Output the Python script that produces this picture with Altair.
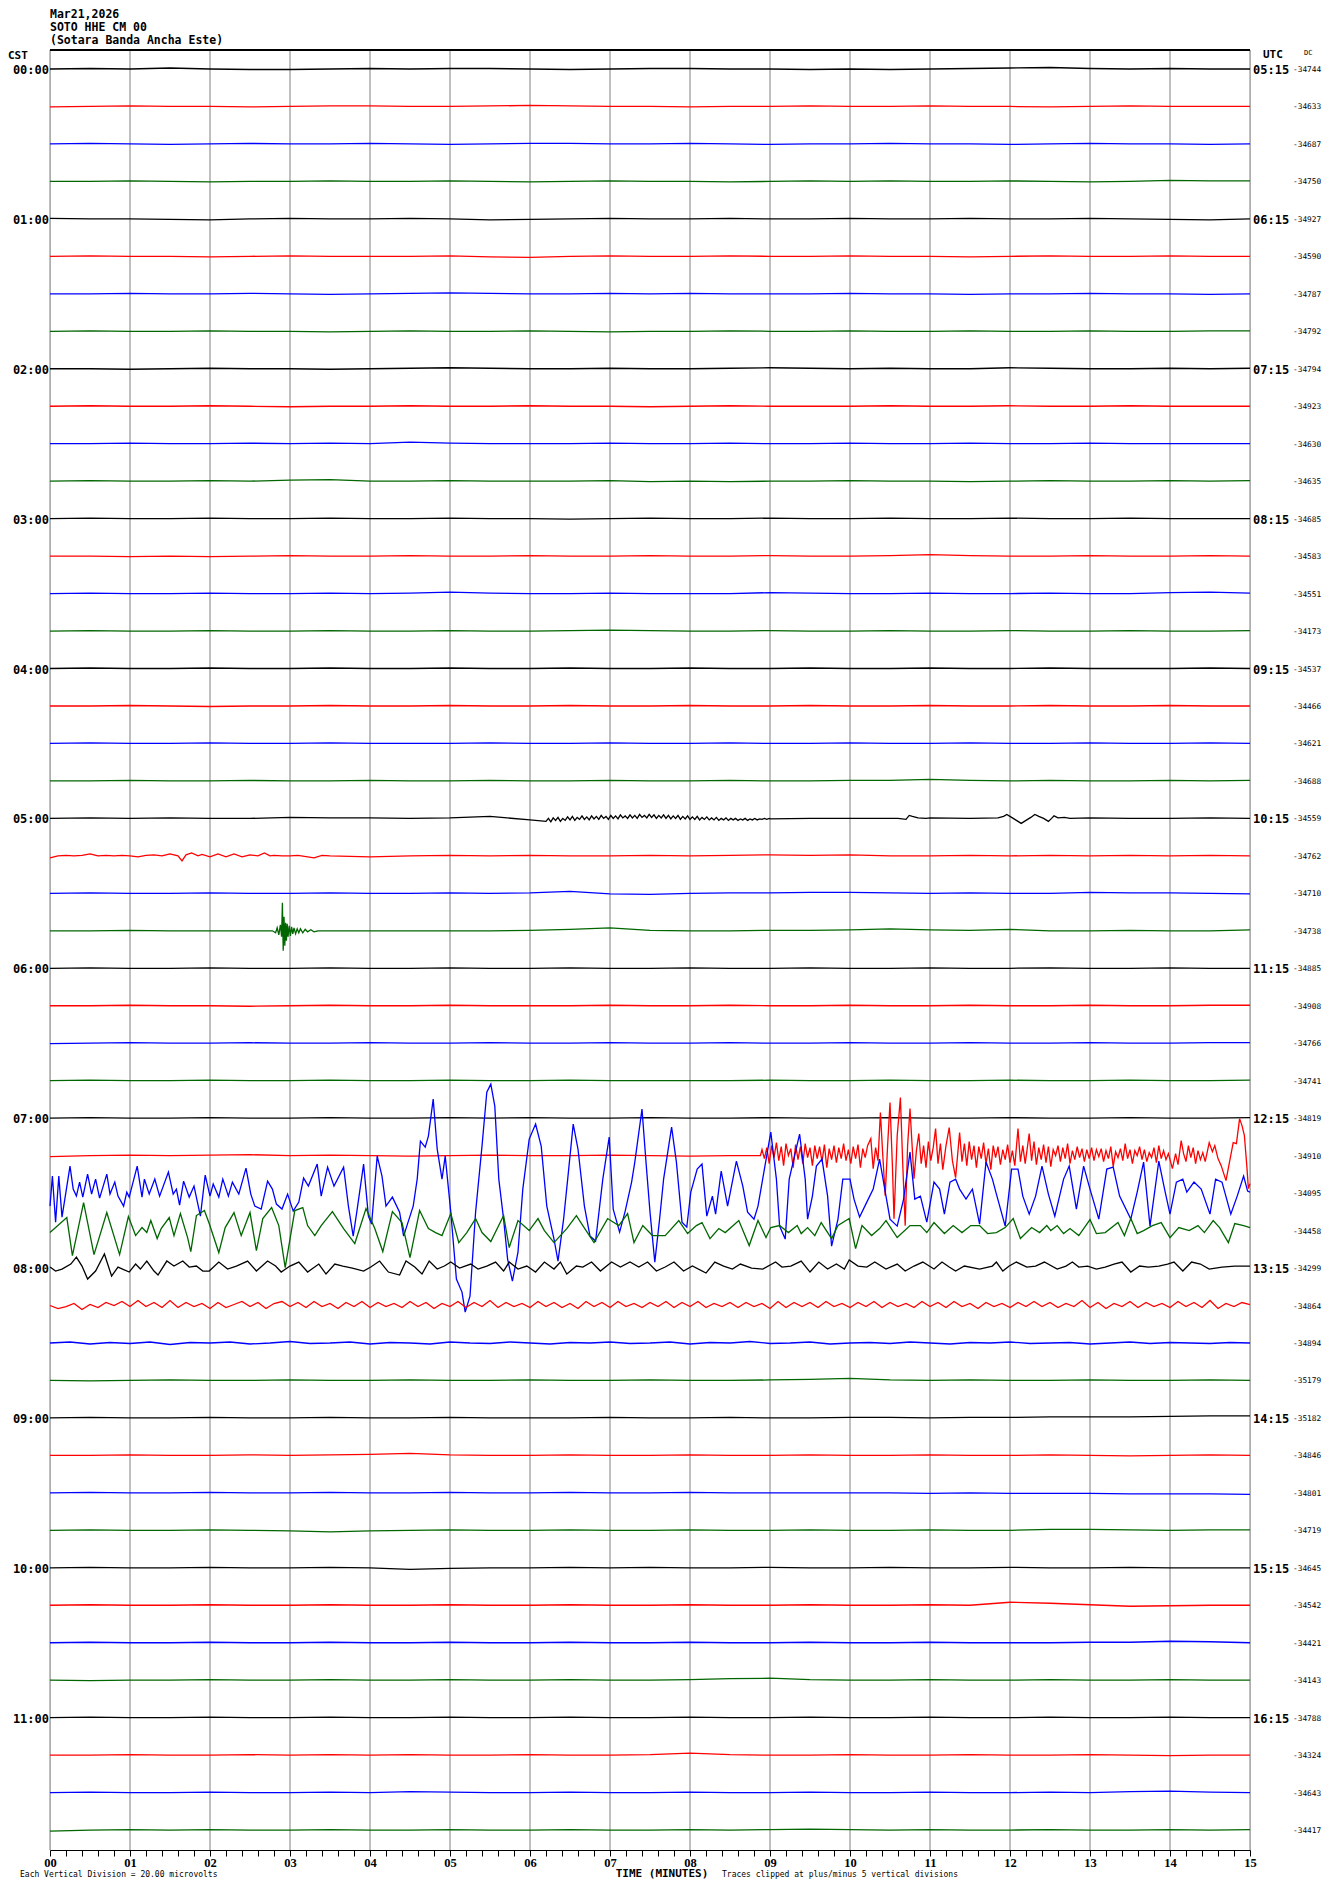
import altair as alt
import numpy as np
import pandas as pd

# ---------------- data ----------------
SPACING = 37.47          # amplitude units between two trace baselines
TRACE_COLORS = ["#000000", "#ff0000", "#0000ff", "#006600"]

TITLE_LINES = ["Mar21,2026", "SOTO HHE CM 00", "(Sotara Banda Ancha Este)"]
CST_LABELS = ["00:00", "01:00", "02:00", "03:00", "04:00", "05:00",
              "06:00", "07:00", "08:00", "09:00", "10:00", "11:00"]
UTC_LABELS = ["05:15", "06:15", "07:15", "08:15", "09:15", "10:15",
              "11:15", "12:15", "13:15", "14:15", "15:15", "16:15"]
DC_VALUES = [-34744, -34633, -34687, -34750, -34927, -34590, -34787, -34792,
             -34794, -34923, -34630, -34635, -34685, -34583, -34551, -34173,
             -34537, -34466, -34621, -34688, -34559, -34762, -34710, -34738,
             -34885, -34908, -34766, -34741, -34819, -34910, -34095, -34458,
             -34299, -34864, -34894, -35179, -35182, -34846, -34801, -34719,
             -34645, -34542, -34421, -34143, -34788, -34324, -34643, -34417]

QUIET_T = [i * 0.5 for i in range(31)]
QUIET = {
    0: [0, 0.5, 0, 1, 0, -0.5, -0.5, 0, 0.5, 0, 0.5, 0.5, 0, -0.5, 0, 0.5, 0.5, 0, 0, -0.5, 0, -0.5, 0, 0.5, 1, 1.5, 0.5, 0, 0.5, 0, 0],
    1: [-0.5, 0, 0.5, 0, 0, -0.5, 0, 0.5, 0.5, 0, 0, 0.5, 1, 0.5, 0, 0, -0.5, 0, 0, 0.5, 0, 0, 0.5, 0, 0, -0.5, 0, 0.5, 0, 0, 0],
    2: [0, 0.5, 0, -0.5, 0, 0.5, 0, 0, 0.5, 0, -0.5, 0, 0.5, 0.5, 0, 0, 0.5, 0, -0.5, 0, 0, 0.5, 0, 0, -0.5, 0, 0.5, 0, 0, -0.5, 0],
    3: [0, 0, 0.5, 0, -0.5, 0, 0, 0.5, 0, 0, 0.5, 0, -0.5, 0, 0.5, 0, 0, -0.5, 0, 0.5, 0, 0.5, 0, 0, 0.5, 0, -0.5, 0, 1, 0.5, 0.5],
    4: [0.5, 0, 0, -0.5, -1, 0, 0.5, 0, 0, 0.5, 0, -1, -0.5, 0, 0.5, 0, 0, 0.5, 0, 0, 0.5, 0, 0, 0.5, 0, 0, 0.5, 0, -0.5, -1, 0],
    5: [0, 0.5, 0, 0, -0.5, 0, 0.5, 0, 0, 0, 0.5, -0.5, -1, 0, 0.5, 0, 0, 0.5, 0, 0, 0.5, 0, 0, -0.5, 0, 0.5, 0, 0, 0.5, 0, 0],
    6: [0, 0, 0.5, 0, 0, 0.5, 0, -0.5, 0, 0.5, 1, 0.5, 0, 0, 0.5, 0, 0.5, 0, 0, 0, 0.5, 0, 0, -0.5, 0, 0, 0.5, 0, 0, -0.5, 0],
    7: [0, 0.5, 0, 0, 0.5, 0, 0, -0.5, 0, 0.5, 0, 0, 0.5, 0, -0.5, 0, 0, 0.5, 0, 0, 0.5, 0, 0, 0.5, 0, 0, 0.5, 0, 0, 0.5, 0.5],
    8: [0, 0, -0.5, 0, 0.5, 0, 0, -0.5, 0, 0.5, 1, 0.5, 0, 0, 0.5, 0, 0, 0.5, 1, 0.5, 0, 0.5, 0, 0, 1, 0.5, 0, 0, 0.5, 0, 0.5],
    9: [0, 0.5, 0, 0, 0.5, 0, -0.5, 0, 0, 0.5, 0, 0, 0.5, 0, 0, -0.5, 0, 0.5, 0, 0, 0, 0.5, 0, 0, 0.5, 0, 0, 0.5, 0, 0, 0],
    10: [0, 0, 0.5, 0, 0, 0.5, 0, 0.5, 0, 1.5, 0.5, 0, 0, 0, 0.5, 0, 0, 0.5, 0, 0, 0.5, 0, 0, 0.5, 0, 0, 0.5, 0, 0, 0, 0],
    11: [0, 0.5, 0, 0, 0.5, 0, 1, 1.5, 0, 0, 0.5, 0, 0, 0, 0.5, -0.5, 0, -0.5, 0, 0, 0.5, 0, 0, -0.5, 0, 0.5, 0, 0, 0.5, 0, 0.5],
    12: [0, 0.5, 0, 0, 0.5, 0, 0, 0.5, 0, 0, 0.5, 0, 0, -0.5, 0, 0.5, 0, 0, 0.5, 0, 0, 0.5, 0, 0, 0.5, 0, 0, 0.5, 0, 0, 0],
    13: [0, 0, -0.5, 0, -0.5, 0, 0.5, 0, 0, 0.5, 0, 0, 0.5, 0, 0, 0.5, 0, 0, 0.5, 0, 0, 0.5, 1.5, 0.5, 0, 0, 0.5, 0, 0, 0.5, 0],
    14: [0, 0.5, 0, 0, 0.5, 0, 0, 0.5, 0, 0.5, 1.5, 0.5, 0, 0, 0.5, 0, 0, 0, 1, 0.5, 0, 0, 0.5, 0, 0, 0.5, 0, 0, 1, 1.5, 0.5],
    15: [0, 0.5, 0, 0, 0.5, 0, 0, 0.5, 0, 0, 0.5, 0, 0, 0.5, 1, 0.5, 0, 0, 0.5, 0, 0, 0.5, 0, 0, 0.5, 0, 0, 0.5, 0, 0, 0.5],
    16: [0, 0.5, 0, 0, 0.5, 0, 0, 0.5, 0, 0, 0.5, 0, 0, 0.5, 0, 0, 0.5, 0, 0, 0.5, 0, 0, 0.5, 0, 0, 0.5, 0, 0, 0, 0.5, 0],
    17: [0, 0, 0.5, 0, -0.5, 0, 0, 0.5, 0, 0, 0.5, 0, 0, 0.5, 0, 0, 0.5, 0, 0, 0.5, 0, 0, 0.5, 0, 0, 0.5, 0, 0, 0.5, 0, 0],
    18: [0, 0.5, 0, 0, 0.5, 0, 0, 0.5, 0, 0, 0, 0.5, 0, 0, 0.5, 0, 0, 0.5, 0, 0, 0.5, 0, 0, 0.5, 0, 0, 0.5, 0, 0, 0.5, 0],
    19: [0, 0, 0.5, 0, 0, 0.5, 0, 0, 0.5, 0, 0, 0.5, 0, 0, 0.5, 0, 0, 0.5, 0, 0, 0.5, 0.5, 1.5, 0.5, 0, 0.5, 0, 0, 0.5, 0, 0.5],
    20: [0, 0.5, 0, 0.5, 0, 0, 1, 0.5, 0.5, 0, 0.5, 2, -1.5, 0, 0, 0, 0, 0, -0.5, 0, 0, 0, 0.5, 0, 0, 0, 0.5, 0, 0, 0.5, 0],
    21: [0, 0, 0, 0, 0, 0, 0, 0, -1, 0, 0.5, 0, 0.5, 0, 0, 0.5, 0, 0.5, 1, 0.5, 1, 0, 0, 0.5, 0, 0.5, 0, 0.5, 0, 0.5, 0],
    22: [0, 0.5, 0, 0, 0.5, 0, 0, 0.5, 0, 0, 0.5, 0, 0.5, 2, -0.5, -1, 0, 0.5, 0.5, 1, 1, 0.5, 0, 0.5, 0, 0, 1, 0.5, 0.5, 0, -0.5],
    23: [0, 0, 0.5, 0, 0, 0, 0, 0, 0, 0, 0, 0, 0.5, 1.5, 3, 0.5, 0, 0, 0.5, 0.5, 1, 2, 1, 0.5, 1.5, 0, 0, 0.5, 0, 0, 1],
    24: [0, 0.5, 0, 0, 0.5, 0, 0, 0.5, 0, 0, 0.5, 0, 0, 0.5, 0, 0, 0.5, 0, 0, 0.5, 0, 0, 0.5, 0, 0, 0.5, 0, 0, 0.5, 0, 0],
    25: [0, 0, 0.5, 0, 0, -0.5, 0, 0.5, 0, 0, 0.5, 0, 0, 0, 0.5, 0, 0, 0.5, 0, 0, 0.5, 0, 0, 0.5, 0, 0, 0.5, 0, 0, 0.5, 0.5],
    26: [-0.5, 0, 0.5, 0, 0, 0.5, 0, 0, 0.5, 0, 0, 0.5, 0, 0, 0.5, 0, 0, 0.5, 0, 0, 0.5, 0, 0, 0.5, 0, 0, 0.5, 0, 0, 0.5, 0.5],
    27: [0, 0.5, 0, 0, 0.5, 0, 0, 0.5, 0, 0, 0.5, 0, 0, 0.5, 0, 0, 0, 0, 0.5, 0, 0, 0.5, 0, 0, 0.5, 0, 0, 0.5, 0, 0, 0.5],
    28: [0, 0.5, 0, 0, 0.5, 0, 0, 0.5, 0, 0, 0.5, 0, 0.5, 0, 0, 0.5, 0, 0, 0.5, 0, 0, 0.5, 0, 0, 0.5, 0, 0, 0.5, 0, 0, 0.5],
    29: [-1, 0, 0.5, 0, 0.5, 1, 0, 0.5, 0, -0.5, 0, 0.5, 0, 0, 0.5, 0, -0.5, 0, 0, 0, 0, 0, 0, 0, 0, 0, 0, 0, 0, 0, 0],
    35: [0, -0.5, 0, 0.5, 0, 0, 0.5, 0, 0, 0.5, 0, 0, 0.5, 0, 0, 0.5, 0, 0, 0.5, 1, 2, 0.5, 0, 0.5, 0, 0, 0.5, 0, 0, 0.5, 0],
    36: [0, 0.5, 0, 0, 0.5, 0, 0, 0.5, 0, 0, 0.5, 0, 0, 0, 0.5, 0, 0, 0.5, 0, 0, 0.5, 0.5, 0, 0.5, 0.5, 1, 1, 1, 1.5, 2, 2],
    37: [0, 0, 0.5, 0, 0, 0.5, 0, 0.5, 1, 2, 0.5, 0, 0, 0.5, 0, 0, 0.5, 0, 0, 0.5, 0, 0, 0.5, 0, 0, 0.5, 0, -0.5, 0, 0.5, 0],
    38: [0, 0.5, 0, 0, 0.5, 0, 0, 0.5, 0, 0, 0.5, 0, 0, 0.5, 0, 0, 0.5, 0, 0, 0, 0, 0, -0.5, 0, -0.5, -0.5, -0.5, -1, -1, -1, -1.5],
    39: [0, 0.5, 0, 0, 0.5, 0, -0.5, -1.5, -0.5, 0, 0.5, 0, 0, 0.5, 0, 0, 0.5, 0, 0, 0.5, 0, 0, 0.5, 0, 0, 1, 1, 0.5, 0, 0.5, 0.5],
    40: [0, 0.5, 0, 0, 0.5, 0, 0, 0.5, 0, -1.5, -0.5, 0, 0, 0.5, 0, 0.5, 0, 0, 0.5, 0, 0, 0.5, 0, 0, 0.5, 0, 0, 0.5, 0, 0, 0],
    41: [0, 0.5, 0, 0, 0.5, 0, 0, 0.5, 0, 0, 0.5, 0, 0, 0.5, 0, 0, 0.5, 0, 0, 0.5, 0, 0, 0.5, 0, 3, 2, 0.5, -1, -0.5, 0, 0],
    42: [0, 0.5, 0, 0, 0.5, 0, 0, 0.5, 0, 0, 0.5, 0, 0, 0.5, 0, 0, 0.5, 0, 0, 0.5, 0, 0, 0.5, 0, 0, 0, 0.5, 0.5, 1.5, 1, 0],
    43: [0, -0.5, 0, 0, 0.5, 0, 0, 0.5, 0, 0, 0.5, 0, 0, 0.5, 0, 0, 0.5, 1.5, 2, 0.5, 0, 0, 0.5, 0, 0, 0.5, 0, 0, 0.5, 0, 0],
    44: [0, 0.5, 0, 0, 0.5, 0, 0, 0.5, 0, 0, 0.5, 0, 0, 0.5, 0, 0, 0.5, 0, 0, 0.5, 0, 0, 0.5, 0, 0, 0.5, 0, 0, 0.5, 0, 0],
    45: [0, 0, 0.5, 0, 0, 0.5, 0, 0.5, 0, 0.5, 0, 0, 0.5, 0, 0, 0.5, 2, 0.5, 0, 0, 0.5, 0, 0, 0.5, 0, 0, 0.5, 0, -0.5, 0, 0],
    46: [0, 0.5, 0, 0, 0.5, 0, 0, 0.5, 0, 1, 0.5, 0, 0, 0.5, 0, 0, 0.5, 0, 0, 0.5, 0, 0, 0.5, 0, 0, 0.5, 0, 1, 1.5, 0.5, 0],
    47: [-1, 0, 0.5, 0, 0.5, 0, 0, 0.5, 0, 0, 0.5, 0, 0, 0.5, 0, 0, 0.5, 0, 0.5, 1, 0.5, 0, 0.5, 0, 0, 0.5, 0, 0, 0.5, 0, 0.5],
}

# 05:00 trace: fuzzy stretch (6.2 - 9.0 min) and two small events
ROW20_FUZZ = [-3, 0, -3.5, 0.5, -2, 1, -3, 0, -2, 1.5, -1.5, 2, -2, 1, -1, 2.5, -1, 1.5, -1.5, 2.5,
              -0.5, 2, -1, 3, 0, 2, -1, 3, 0, 2.5, -0.5, 3.5, 0.5, 2.5, 0, 3.5, 0.5, 3, 0, 4,
              1, 3, 0.5, 4, 1, 3.5, 0, 3, 0.5, 3.5, 0, 3, -0.5, 2.5, 0, 3, -1, 2, -0.5, 2.5,
              -1, 1.5, -1, 2, -1.5, 1, -1, 1.5, -1.5, 0.5, -1.5, 1, -2, 0, -1.5, 0.5, -2, 0, -1.5, 0,
              -2, -0.5, -1.5, 0, -2, -0.5, -1.5, 0, -1.5, -0.5, -1, 0, -1, 0]
ROW20_EV1 = [(10.60, 0), (10.70, -1), (10.74, 3), (10.78, 2), (10.85, 0.5), (10.95, 0)]
ROW20_EV2 = [(11.85, 0.5), (11.92, 2), (11.96, 4), (12.02, 1), (12.08, -2), (12.14, -5), (12.20, -2),
             (12.26, 1), (12.31, 4), (12.36, 2), (12.42, 0), (12.48, -3), (12.52, 0), (12.55, 2.5),
             (12.60, 0.5), (12.68, 1), (12.75, 0)]
# 05:15 trace: small wiggles early in the line
ROW21_EARLY = [(0, -2), (0.1, 0), (0.2, 0.5), (0.3, 0), (0.4, 0.5), (0.5, 2), (0.6, 0), (0.7, 0.5),
               (0.8, 0), (0.9, 0.5), (1.0, 0), (1.1, -1), (1.2, 0.5), (1.3, 1), (1.4, 0), (1.5, 2),
               (1.6, 0), (1.65, -5), (1.7, 1), (1.77, 3), (1.85, 0), (1.9, 1.5), (2.0, -1), (2.1, 2),
               (2.2, -1), (2.3, 2), (2.4, -1), (2.5, 1), (2.6, 0), (2.68, 3), (2.75, 0), (2.8, 0.5),
               (2.9, 0), (3.0, 0), (3.1, 0.5), (3.3, -2), (3.4, 0.5), (3.5, 0)]
# 05:45 trace: local event near minute 2.9
ROW23_SPIKE = [(2.78, 0), (2.82, -2), (2.84, 3), (2.86, -4), (2.88, 6), (2.895, -6), (2.905, 28),
               (2.915, -20), (2.925, 14), (2.935, -15), (2.945, 8), (2.955, -10), (2.965, 7),
               (2.975, -6), (2.99, 5), (3.005, -5), (3.02, 4), (3.035, -3), (3.05, 3), (3.07, -3),
               (3.09, 2), (3.11, -2), (3.13, 2), (3.16, -2), (3.19, 1.5), (3.22, -1), (3.26, 1),
               (3.30, -1), (3.35, 0)]
# 07:15 trace: noisy from minute 8.9
ROW29_NOISE = [(8.88, 0), (8.90, 6), (8.93, -3), (8.96, 8), (8.99, -8), (9.02, 10), (9.05, -2), (9.08, 13),
               (9.11, -5), (9.14, 9), (9.17, -10), (9.20, 12), (9.23, 0), (9.26, 7), (9.29, -12), (9.32, 11),
               (9.35, -4), (9.38, 9), (9.41, -8), (9.44, 12), (9.47, -2), (9.50, 8), (9.53, -10), (9.56, 10),
               (9.59, -3), (9.62, 9), (9.65, -6), (9.68, 11), (9.71, -12), (9.74, 7), (9.77, -4), (9.80, 10),
               (9.83, -7), (9.86, 8), (9.89, -3), (9.92, 12), (9.95, -5), (9.98, 6), (10.01, -8), (10.04, 9),
               (10.07, -3), (10.10, 11), (10.13, -12), (10.16, 7), (10.19, -2), (10.22, 10), (10.26, 17),
               (10.29, -13), (10.32, 8), (10.35, -5), (10.38, 43), (10.41, 0), (10.44, -40), (10.47, 10),
               (10.50, 53), (10.53, -10), (10.55, -63), (10.59, 20), (10.63, 58), (10.66, -10), (10.69, -70),
               (10.72, 10), (10.75, 47), (10.78, 5), (10.80, -23), (10.83, 5), (10.86, 22), (10.89, -8),
               (10.92, 10), (10.95, -12), (10.98, 14), (11.01, -5), (11.04, 8), (11.07, 27), (11.10, -8),
               (11.13, 12), (11.16, -14), (11.20, 10), (11.24, 28), (11.28, -5), (11.32, -22), (11.37, 23),
               (11.40, -6), (11.43, 12), (11.46, -10), (11.49, 14), (11.52, -4), (11.55, 10), (11.58, -12),
               (11.61, 9), (11.64, -3), (11.67, 13), (11.70, -8), (11.73, 7), (11.76, -14), (11.79, 10),
               (11.82, -2), (11.85, 9), (11.88, -9), (11.91, 6), (11.94, -4), (11.97, 11), (12.00, -7),
               (12.03, 5), (12.06, -10), (12.10, 27), (12.13, -6), (12.16, 10), (12.19, -8), (12.24, 22),
               (12.27, -5), (12.30, 14), (12.33, -9), (12.36, 8), (12.39, -4), (12.42, 11), (12.45, -7),
               (12.48, 9), (12.51, -11), (12.54, 6), (12.57, 0), (12.60, 10), (12.63, -6), (12.66, 8),
               (12.69, -3), (12.72, 12), (12.75, -8), (12.78, 5), (12.81, -4), (12.84, 9), (12.87, -2),
               (12.90, 7), (12.93, -6), (12.96, 6), (12.99, -3), (13.02, 8), (13.05, -5), (13.08, 6),
               (13.11, -1), (13.14, 7), (13.17, -6), (13.20, 5), (13.23, -3), (13.26, 9), (13.29, -11),
               (13.32, 4), (13.35, -2), (13.38, 7), (13.41, -5), (13.44, 12), (13.47, -3), (13.50, 6),
               (13.53, -8), (13.56, 5), (13.59, 0), (13.62, 9), (13.65, -4), (13.68, 6), (13.71, -6),
               (13.74, 3), (13.77, -2), (13.80, 8), (13.83, -7), (13.86, 10), (13.89, -3), (13.92, 5),
               (13.95, -4), (13.98, 2), (14.03, -13), (14.07, 2), (14.10, -9), (14.14, 15), (14.17, 2),
               (14.20, -6), (14.23, 10), (14.26, -2), (14.29, 8), (14.32, -8), (14.35, 5), (14.38, -4),
               (14.41, 3), (14.44, -6), (14.49, 13), (14.53, 4), (14.56, 10), (14.60, -3), (14.64, -10),
               (14.70, -25), (14.74, -8), (14.79, 13), (14.83, 12), (14.87, 37), (14.90, 30), (14.93, 20),
               (14.96, -10), (14.98, -33), (15.00, -28)]
# 07:30 trace
ROW30 = [(0.00, -13), (0.03, 17), (0.07, -29), (0.11, 17), (0.15, -24), (0.25, 27), (0.29, 4), (0.33, -3),
         (0.37, 11), (0.41, -4), (0.47, 19), (0.52, -1), (0.57, 14), (0.62, -5), (0.71, 19), (0.75, -1),
         (0.81, 11), (0.85, -3), (0.92, -13), (0.96, 1), (0.99, -4), (1.09, 27), (1.15, -4), (1.18, 14),
         (1.24, -1), (1.31, 14), (1.37, -3), (1.48, 21), (1.54, -1), (1.58, 4), (1.62, -12), (1.67, 12),
         (1.74, -4), (1.80, 7), (1.88, -23), (1.94, 18), (2.00, -3), (2.04, 9), (2.11, -4), (2.16, 14),
         (2.23, -3), (2.28, 11), (2.36, -1), (2.45, 25), (2.51, -1), (2.56, -13), (2.64, -16), (2.72, 12),
         (2.78, 4), (2.83, -11), (2.90, -16), (2.97, -1), (3.04, -18), (3.11, -9), (3.17, 15), (3.23, 7),
         (3.34, 29), (3.39, -3), (3.47, 26), (3.55, 7), (3.67, 26), (3.73, -13), (3.79, -43), (3.84, -16),
         (3.92, 29), (3.98, -23), (4.02, -31), (4.09, 37), (4.15, 17), (4.20, -13), (4.28, -4), (4.37, -19),
         (4.42, -43), (4.46, -33), (4.54, -13), (4.59, 14), (4.63, 52), (4.69, 46), (4.73, 57), (4.79, 94),
         (4.84, 44), (4.90, 14), (4.94, 37), (5.01, -19), (5.08, -86), (5.15, -99), (5.19, -119),
         (5.25, -103), (5.32, -19), (5.40, 47), (5.46, 101), (5.51, 109), (5.56, 87), (5.61, 14),
         (5.67, -26), (5.72, -66), (5.78, -88), (5.85, -59), (5.91, 4), (5.99, 54), (6.07, 69), (6.14, 47),
         (6.21, -13), (6.30, -46), (6.35, -68), (6.42, -26), (6.48, 21), (6.54, 69), (6.60, 44), (6.68, -13),
         (6.75, -43), (6.82, -48), (6.91, 14), (6.99, 56), (7.04, -16), (7.12, -39), (7.19, -18), (7.27, 11),
         (7.31, 31), (7.40, 84), (7.45, 31), (7.50, -19), (7.56, -69), (7.62, -26), (7.67, 14), (7.77, 66),
         (7.83, 31), (7.90, -29), (7.96, -34), (8.01, 1), (8.09, 24), (8.15, 29), (8.21, -23), (8.28, -3),
         (8.32, -21), (8.39, 22), (8.47, -13), (8.58, 32), (8.66, 7), (8.72, -19), (8.80, -26), (8.85, -13),
         (8.93, 24), (9.01, 61), (9.08, 14), (9.12, -33), (9.19, -46), (9.24, 14), (9.37, 59), (9.44, 14),
         (9.47, -26), (9.53, -3), (9.58, 27), (9.65, 34), (9.72, -3), (9.77, -53), (9.85, -26), (9.91, 14),
         (10.00, 14), (10.05, -6), (10.12, -24), (10.21, -9), (10.29, 4), (10.37, 34), (10.45, -3),
         (10.50, -26), (10.59, -33), (10.67, -6), (10.75, 41), (10.81, -6), (10.88, -3), (10.96, -29),
         (11.05, 11), (11.12, 4), (11.18, -21), (11.25, 11), (11.32, 14), (11.37, 4), (11.45, -6),
         (11.53, 4), (11.62, -31), (11.70, 31), (11.78, 14), (11.83, -1), (11.94, -33), (12.02, 24),
         (12.10, 24), (12.16, -3), (12.24, -21), (12.32, -3), (12.40, 27), (12.48, -1), (12.56, -23),
         (12.67, 14), (12.74, 27), (12.83, -16), (12.92, 27), (13.00, 4), (13.11, -26), (13.21, 24),
         (13.29, 26), (13.37, -3), (13.51, -26), (13.59, 1), (13.67, 31), (13.75, -33), (13.86, 32),
         (13.94, 1), (14.00, -21), (14.08, 11), (14.16, 14), (14.21, 1), (14.30, 11), (14.39, 4),
         (14.50, -21), (14.57, 14), (14.65, 11), (14.76, -21), (14.84, -3), (14.92, 17), (14.97, 2),
         (15.00, 1)]
# 07:45 trace
ROW31 = [(0.00, -2), (0.21, 13), (0.28, -25), (0.42, 28), (0.55, -24), (0.71, 18), (0.87, -24), (0.98, 14),
         (1.07, -5), (1.15, 3), (1.21, -2), (1.26, 10), (1.34, -8), (1.39, 2), (1.49, 13), (1.55, -5),
         (1.63, 17), (1.72, -7), (1.76, -21), (1.83, 15), (1.93, 20), (1.99, 7), (2.11, -22), (2.19, 3),
         (2.30, 18), (2.39, -5), (2.50, 18), (2.58, -20), (2.66, 12), (2.77, 23), (2.86, 5), (2.94, -37),
         (3.06, 20), (3.16, 23), (3.22, 5), (3.31, -5), (3.39, 5), (3.53, 19), (3.67, 2), (3.81, -13),
         (3.95, 22), (4.06, 2), (4.16, -21), (4.28, 19), (4.40, 8), (4.50, -27), (4.62, 20), (4.73, 2),
         (4.82, -2), (4.90, -5), (5.01, 17), (5.11, -12), (5.21, -2), (5.32, 12), (5.40, -2), (5.51, -11),
         (5.67, 15), (5.74, -17), (5.85, 10), (5.99, 0), (6.10, 12), (6.18, 0), (6.30, -12), (6.46, 2),
         (6.58, 15), (6.66, 5), (6.80, -12), (6.97, 12), (7.11, 5), (7.22, 17), (7.30, -12), (7.41, 5),
         (7.53, -5), (7.69, -5), (7.86, 10), (7.97, -3), (8.08, 5), (8.15, 8), (8.25, -8), (8.36, 2),
         (8.44, -2), (8.61, 10), (8.74, -15), (8.85, 10), (8.95, -7), (9.01, 3), (9.12, 5), (9.23, -2),
         (9.34, 5), (9.39, -3), (9.47, 3), (9.56, -5), (9.64, 8), (9.77, -8), (9.85, 5), (9.99, 12),
         (10.07, -18), (10.15, 5), (10.27, -5), (10.37, 2), (10.45, 10), (10.59, -7), (10.75, 5),
         (10.88, 5), (10.96, -2), (11.05, 8), (11.18, -3), (11.29, 5), (11.40, -2), (11.51, 5), (11.62, 5),
         (11.72, -3), (11.83, -2), (11.94, 3), (12.04, 12), (12.13, -8), (12.27, 3), (12.37, -2),
         (12.46, 5), (12.51, 0), (12.59, 5), (12.67, -3), (12.75, 2), (12.86, -5), (13.00, 11), (13.08, -3),
         (13.19, -2), (13.35, 8), (13.43, -5), (13.51, 12), (13.59, -3), (13.67, 0), (13.78, 5), (13.89, 8),
         (14.00, -7), (14.11, 3), (14.24, 0), (14.35, 5), (14.43, -2), (14.54, 10), (14.62, 3),
         (14.73, -12), (14.81, 7), (14.92, 5), (15.00, 3)]
# 08:00 trace
ROW32 = [(0.00, 1), (0.07, -3), (0.15, -1), (0.26, 4), (0.33, 11), (0.40, 2), (0.47, -11), (0.57, -3),
         (0.68, 14), (0.77, -8), (0.85, 1), (0.99, -4), (1.07, 4), (1.13, -1), (1.21, 7), (1.30, -3),
         (1.35, -7), (1.46, 7), (1.55, 2), (1.66, 7), (1.74, 1), (1.83, 2), (1.91, -3), (1.99, -3),
         (2.11, 6), (2.22, -1), (2.33, 2), (2.47, 7), (2.58, -3), (2.72, 7), (2.82, 2), (2.89, -4),
         (3.00, 2), (3.11, 6), (3.22, -4), (3.36, 4), (3.45, -6), (3.56, 4), (3.66, 2), (3.78, 0),
         (3.92, -3), (4.01, 1), (4.12, 7), (4.23, -4), (4.37, -7), (4.45, 7), (4.56, 1), (4.65, -6),
         (4.74, 7), (4.84, -1), (4.93, 2), (5.01, 6), (5.12, 0), (5.26, 4), (5.35, -1), (5.46, 2),
         (5.57, 6), (5.67, -3), (5.74, 6), (5.85, -1), (5.96, 2), (6.07, -4), (6.18, 6), (6.30, -1),
         (6.38, 6), (6.46, -6), (6.58, 2), (6.66, 1), (6.77, 6), (6.88, -3), (7.02, 6), (7.13, 1),
         (7.25, 6), (7.36, 1), (7.47, 6), (7.58, -3), (7.69, 1), (7.80, 6), (7.92, -3), (8.03, 2),
         (8.20, -5), (8.31, 6), (8.42, 2), (8.53, -1), (8.63, 4), (8.77, 0), (8.91, -1), (9.07, 6),
         (9.15, 1), (9.26, 2), (9.39, 7), (9.50, -4), (9.61, 6), (9.72, -1), (9.83, 4), (9.93, -1),
         (9.99, 8), (10.10, 2), (10.21, 1), (10.31, 6), (10.45, -1), (10.59, 4), (10.69, -3), (10.80, 2),
         (10.91, 6), (11.05, -1), (11.15, 6), (11.24, 1), (11.32, -3), (11.43, 2), (11.62, -1), (11.78, 2),
         (11.83, 6), (11.91, -3), (11.99, 2), (12.08, 6), (12.21, 1), (12.32, 2), (12.43, 6), (12.59, -1),
         (12.70, 2), (12.78, 6), (12.86, 1), (12.97, 2), (13.08, -1), (13.19, 1), (13.30, 4), (13.40, 6),
         (13.51, -4), (13.62, 2), (13.73, 1), (13.86, 2), (13.97, 4), (14.05, 6), (14.16, -3), (14.27, 6),
         (14.38, 4), (14.49, -1), (14.65, 1), (14.81, 2), (15.00, 2)]
# 08:15 trace, regular 0-15 min sampling
ROW33 = [0, -3, -1, 2, -4, 1, -2, 3, 0, 4, -1, 5, -1, 3, -2, 5, -2, 3, -1, 2,
         -3, 3, -2, 1, 4, -1, 3, -3, 2, 4, -1, 3, -2, 4, -1, 2, -3, 3, -1, 4,
         -2, 3, -1, 2, -2, 4, -1, 3, -3, 2, -1, 4, -2, 3, -1, 5, -2, 3, -1, 2,
         -2, 4, -1, 3, -2, 2, -3, 4, -1, 3, -2, 4, -1, 2, -2, 3, -1, 4, -2, 3,
         -1, 4, -2, 2, -1, 3, -2, 3, -1, 2, -3, 4, -2, 3, -1, 3, -2, 4, -1, 2,
         -2, 3, -1, 4, -2, 3, -1, 2, -2, 4, -1, 3, -2, 4, -1, 2, -3, 3, -1, 2,
         -2, 3, -1, 4, -1, 3, -2, 2, -1, 5, -2, 3, -3, 2, -1, 4, -2, 3, -1, 2,
         -2, 4, -1, 3, -2, 5, -3, 2, -1, 3, 1]
# 08:30 trace, regular 0-15 min sampling
ROW34 = [0, 1, -1, 0.5, -0.5, 1, -1.5, 0.5, 0, 1, -1, 0, 1.5, -0.5, 0, 1, -1, 0.5, 0, -1, 1, 0,
         -0.5, 1, 0, -1, 0.5, 0, 1, -0.5, 0, 1, -1, 0.5, 0, 1.5, -0.5, 0, 1, -1, 0, 0.5, -0.5, 1,
         0, -1, 0.5, 0, 1, -0.5, 0, 0.5, -1, 0, 1, -0.5, 0.5, 0, -0.5, 0.5, 0]


def regular(start, stop, values):
    ts = np.linspace(start, stop, len(values))
    return list(zip(ts, values))


DETAIL = {
    20: [regular(6.20, 8.99, ROW20_FUZZ), ROW20_EV1, ROW20_EV2],
    21: [ROW21_EARLY],
    23: [ROW23_SPIKE],
    29: [ROW29_NOISE],
    30: [ROW30],
    31: [ROW31],
    32: [ROW32],
    33: [regular(0, 15, ROW33)],
    34: [regular(0, 15, ROW34)],
}

records = []
for r in range(48):
    segs = DETAIL.get(r, [])
    pts = []
    for seg in segs:
        pts += [(float(t), float(a)) for t, a in seg]
    if r in QUIET:
        for t, a in zip(QUIET_T, QUIET[r]):
            if not any(min(s)[0] <= t <= max(s)[0] for s in segs):
                pts.append((t, a))
    pts.sort()
    for t, a in pts:
        records.append({"row": r, "t": t, "y": r * SPACING - a, "ch": r % 4})
traces = pd.DataFrame(records)

minutes = pd.DataFrame({"m": list(range(16))})
TICKS = [round(i * 0.2, 1) for i in range(76)]

cst_df = pd.DataFrame({"label": CST_LABELS, "y": [i * 4 * SPACING for i in range(12)]})
utc_df = pd.DataFrame({"label": UTC_LABELS, "y": [i * 4 * SPACING for i in range(12)]})
dc_df = pd.DataFrame({"label": [str(v) for v in DC_VALUES], "y": [i * SPACING for i in range(48)]})

# ---------------- chart ----------------
W, H = 1200, 1800
xscale = alt.Scale(domain=[0, 15], nice=False, zero=False)
yscale = alt.Scale(domain=[-19, 1781], reverse=True, nice=False, zero=False)
xaxis = alt.Axis(values=TICKS, title=None, grid=False, tickSize=6, tickColor="black",
                 domainColor="black", labelColor="black", labelFlush=False, labelOverlap=False,
                 labelFont="Liberation Sans Narrow", labelFontWeight="bold", labelFontSize=12.5,
                 labelPadding=0,
                 labelExpr="abs(datum.value - round(datum.value)) < 0.001 ? "
                           "(datum.value < 9.5 ? '0' : '') + round(datum.value) : ''")

grid = alt.Chart(minutes).mark_rule(color="#808080", strokeWidth=1).encode(
    x=alt.X("m:Q", scale=xscale, axis=xaxis))

top_border = alt.Chart(minutes).mark_rule(color="black", strokeWidth=1).encode(
    x=alt.value(0), x2=alt.value(W), y=alt.value(0))

lines = alt.Chart(traces).mark_line(strokeWidth=1.3, interpolate="linear").encode(
    x=alt.X("t:Q", scale=xscale, axis=xaxis),
    y=alt.Y("y:Q", scale=yscale, axis=None),
    detail="row:N",
    color=alt.Color("ch:N", scale=alt.Scale(domain=[0, 1, 2, 3], range=TRACE_COLORS), legend=None),
)

mono = "DejaVu Sans Mono"
cst_text = alt.Chart(cst_df).mark_text(align="right", baseline="middle", font=mono,
                                       fontWeight="bold", fontSize=12, dy=1, color="black").encode(
    x=alt.value(-1), y=alt.Y("y:Q", scale=yscale, axis=None), text="label:N")
utc_text = alt.Chart(utc_df).mark_text(align="left", baseline="middle", font=mono,
                                       fontWeight="bold", fontSize=12, dy=1, color="black").encode(
    x=alt.value(1203), y=alt.Y("y:Q", scale=yscale, axis=None), text="label:N")
dc_text = alt.Chart(dc_df).mark_text(align="left", baseline="middle", font=mono,
                                     fontSize=7.8, dy=1, color="black").encode(
    x=alt.value(1243), y=alt.Y("y:Q", scale=yscale, axis=None), text="label:N")


def label(text, x, y, size, weight="normal", align="left"):
    return alt.Chart(pd.DataFrame({"s": [text]})).mark_text(
        align=align, baseline="middle", font=mono, fontSize=size, fontWeight=weight,
        color="black").encode(x=alt.value(x), y=alt.value(y), text="s:N")


annotations = [
    label(TITLE_LINES[0], 0, -35, 11.5, "bold"),
    label(TITLE_LINES[1], 0, -22, 11.5, "bold"),
    label(TITLE_LINES[2], 0, -9, 11.5, "bold"),
    label("CST", -42, 6, 11, "bold"),
    label("UTC", 1213, 5, 11, "bold"),
    label("DC", 1254, 3, 7),
    label("Each Vertical Division =   20.00 microvolts", -30, 1825, 8),
    label("TIME (MINUTES)", 612, 1824, 11, "bold", "center"),
    label("Traces clipped at plus/minus 5 vertical divisions", 672, 1825, 8),
]

chart = alt.layer(grid, top_border, lines, cst_text, utc_text, dc_text, *annotations).properties(
    width=W, height=H,
    autosize=alt.AutoSizeParams(type="none"),
    padding={"left": 42, "top": 42, "right": 72, "bottom": 30},
).configure_view(stroke=None).configure(background="white")

chart.save("out.html", embed_options={"renderer": "svg", "actions": False})
